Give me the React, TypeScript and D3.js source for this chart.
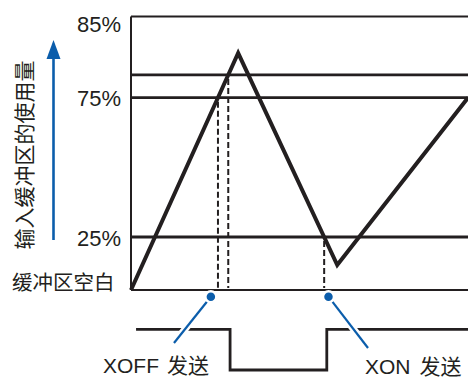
import React from "react";
import * as d3 from "d3";

// ---- data ----
const levelTicks = [85, 75, 25];
const levelLabels = ["85%", "75%", "25%"];
const thresholdLines = [77.8, 75, 25]; // XOFF trigger line, 75%, 25%
const bufferTimes = [0, 31.8, 61.2, 100];
const bufferLevels = [0, 80.5, 11.8, 75];
const signalTimes = [1.5, 29.4, 58.1, 100];
const signalStates = [1, 0, 1, 1];
const markerTimes = [23.7, 58.6];
const markerLabels = ["XOFF 发送", "XON 发送"];
const axisTitle = "输入缓冲区的使用量";
const emptyLabel = "缓冲区空白";

const W = 468;
const H = 378;
const BLUE = "#0b5dab";
const INK = "#231f20";
const LATIN = "'Liberation Sans', Arial, sans-serif";
const CJK = "'Noto Sans CJK SC', 'Liberation Sans', sans-serif";

export default function App() {
  const x = d3.scaleLinear().domain([0, 100]).range([131, 468]);
  const y = d3.scaleLinear().domain([0, 25, 75, 85]).range([290, 237, 97.7, 16.5]);
  const ySig = d3.scaleLinear().domain([0, 1]).range([370, 329.3]);

  const pts: [number, number][] = bufferTimes.map((t, i) => [t, bufferLevels[i]]);
  const bufLine = d3
    .line<[number, number]>()
    .x((d) => x(d[0]))
    .y((d) => y(d[1]));

  // crossing in pixel space (the drawn segment is straight on screen)
  const crossingX = (level: number, seg: number) => {
    const x0 = x(pts[seg][0]);
    const y0 = y(pts[seg][1]);
    const x1 = x(pts[seg + 1][0]);
    const y1 = y(pts[seg + 1][1]);
    const yl = y(level);
    return x0 + ((yl - y0) / (y1 - y0)) * (x1 - x0);
  };
  const dashed = [
    { px: crossingX(thresholdLines[1], 0), v: thresholdLines[1] },
    { px: crossingX(thresholdLines[0], 0), v: thresholdLines[0] },
    { px: crossingX(thresholdLines[2], 1), v: thresholdLines[2] },
  ];

  const sigPts: [number, number][] = [];
  signalTimes.forEach((t, i) => {
    if (i > 0) sigPts.push([t, signalStates[i - 1]]);
    sigPts.push([t, signalStates[i]]);
  });
  const sigLine = d3
    .line<[number, number]>()
    .x((d) => x(d[0]))
    .y((d) => ySig(d[1]));

  const leaderEnds: [number, number][] = [
    [174, 343],
    [368, 348],
  ];
  const dotY = 296.7;

  return (
    <svg width={W} height={H} style={{ position: "absolute", left: 0, top: 0 }}>
      <rect width={W} height={H} fill="#fff" />
      {/* frame */}
      <line x1={x(0)} x2={x(0)} y1={y(85)} y2={y(0)} stroke={INK} strokeWidth={2} />
      <line x1={x(0)} x2={x(100)} y1={y(85)} y2={y(85)} stroke={INK} strokeWidth={2} />
      <line x1={x(0)} x2={x(100)} y1={y(0)} y2={y(0)} stroke={INK} strokeWidth={2} />
      {thresholdLines.map((v, i) => (
        <line key={i} x1={x(0)} x2={x(100)} y1={y(v)} y2={y(v)} stroke={INK} strokeWidth={2.8} />
      ))}
      {dashed.map((d, i) => (
        <line
          key={i}
          x1={d.px}
          x2={d.px}
          y1={y(d.v) + 4}
          y2={y(0) - 2}
          stroke={INK}
          strokeWidth={2}
          strokeDasharray="6,3"
        />
      ))}
      <path d={bufLine(pts) || ""} fill="none" stroke={INK} strokeWidth={4} strokeLinejoin="miter" />

      {/* signal */}
      <path d={sigLine(sigPts) || ""} fill="none" stroke={INK} strokeWidth={2.8} />

      {/* markers and leaders */}
      {markerTimes.map((t, i) => (
        <g key={i}>
          <line x1={x(t)} y1={dotY} x2={leaderEnds[i][0]} y2={leaderEnds[i][1]} stroke="#fff" strokeWidth={7} />
          <line x1={x(t)} y1={dotY} x2={leaderEnds[i][0]} y2={leaderEnds[i][1]} stroke={BLUE} strokeWidth={2.2} />
          <circle cx={x(t)} cy={dotY} r={5.5} fill={BLUE} stroke="#fff" strokeWidth={2.5} />
        </g>
      ))}
      <text x={103} y={372.5} fontSize={21} fill={INK} fontFamily={CJK}>
        <tspan fontFamily={LATIN}>{markerLabels[0].split(" ")[0]}</tspan>
        <tspan dx={8}>{markerLabels[0].split(" ")[1]}</tspan>
      </text>
      <text x={365} y={373.5} fontSize={21} fill={INK} fontFamily={CJK}>
        <tspan fontFamily={LATIN}>{markerLabels[1].split(" ")[0]}</tspan>
        <tspan dx={9}>{markerLabels[1].split(" ")[1]}</tspan>
      </text>

      {/* y labels */}
      {levelTicks.map((v, i) => (
        <text
          key={i}
          x={121}
          y={v === 85 ? 31.5 : y(v) + 8.5}
          fontSize={22}
          textAnchor="end"
          fill={INK}
          fontFamily={LATIN}
        >
          {levelLabels[i]}
        </text>
      ))}
      <text x={12} y={290} fontSize={20.5} fill={INK} fontFamily={CJK}>
        {emptyLabel}
      </text>
      <text
        transform="translate(23,155) rotate(-90)"
        fontSize={21}
        textAnchor="middle"
        dominantBaseline="central"
        fill={INK}
        fontFamily={CJK}
      >
        {axisTitle}
      </text>
      {/* arrow */}
      <line x1={53.5} x2={53.5} y1={240} y2={56} stroke={BLUE} strokeWidth={2.6} />
      <path d="M53.5,40 L60.5,59 L46.5,59 Z" fill={BLUE} />
    </svg>
  );
}
